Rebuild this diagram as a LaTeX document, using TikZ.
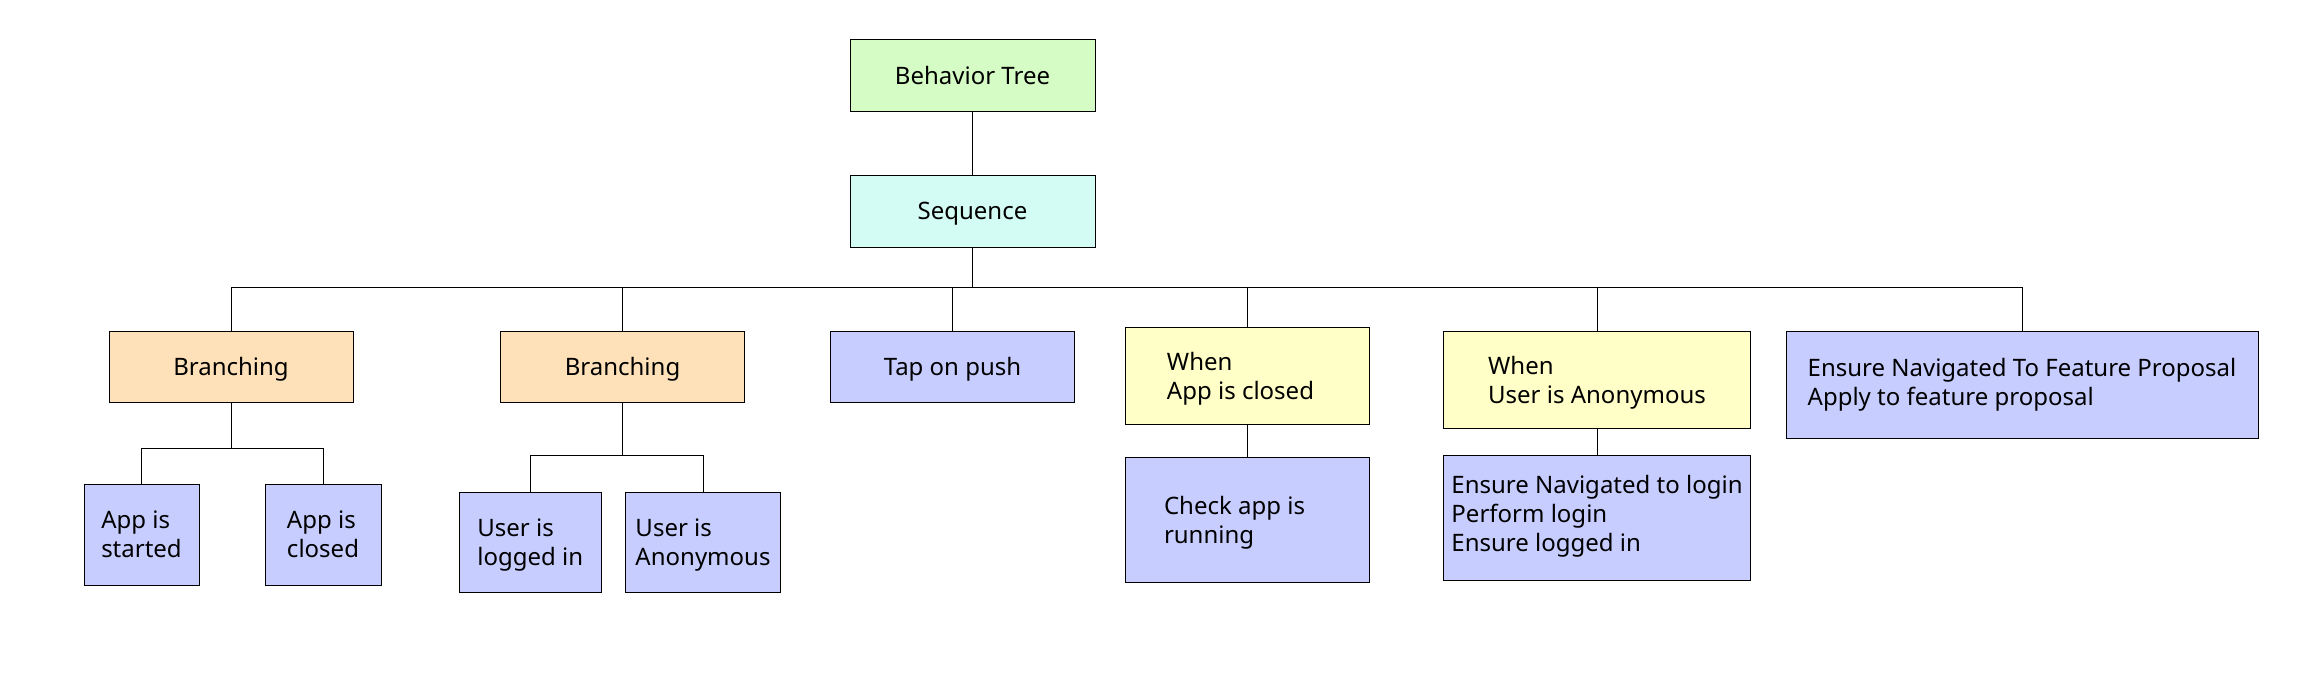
\documentclass[tikz,border=0pt]{standalone}
\usepackage{fontspec}
\setmainfont{Noto Sans}
\usepackage{tikz}
\usepackage{xcolor}

\definecolor{rootgreen}{RGB}{212,252,196}
\definecolor{seqcyan}{RGB}{211,253,244}
\definecolor{branchpeach}{RGB}{255,225,185}
\definecolor{actionblue}{RGB}{199,206,255}
\definecolor{whenyellow}{RGB}{255,255,199}

\begin{document}
\begin{tikzpicture}[x=1pt,y=-1pt,
        box/.style={draw=black, line width=1pt, align=left, inner sep=0pt,
                    text depth=0pt, font=\fontsize{24}{29}\selectfont},
        root/.style={box, fill=rootgreen},
        seqbox/.style={box, fill=seqcyan},
        branch/.style={box, fill=branchpeach},
        action/.style={box, fill=actionblue},
        whenbox/.style={box, fill=whenyellow},
        link/.style={draw=black, line width=1pt}]
                \useasboundingbox (0,0) rectangle (2297,681);
                % top of the tree
                \node[root, minimum width=245pt, minimum height=72pt] (bt) at (972.5,75) {Behavior Tree};
                \node[seqbox, minimum width=245pt, minimum height=72pt] (seq) at (972.5,211) {Sequence};
                % children of the sequence
                \node[branch, minimum width=244pt, minimum height=71pt] (br1) at (231,366.5) {Branching};
                \node[branch, minimum width=244pt, minimum height=71pt] (br2) at (622.5,366.5) {Branching};
                \node[action, minimum width=244pt, minimum height=71pt] (tap) at (952.5,366.5) {Tap on push};
                \node[whenbox, minimum width=244pt, minimum height=97pt] (when1) at (1247.5,375.5) {When\\App is closed\hspace*{14pt}};
                \node[whenbox, minimum width=307pt, minimum height=97pt] (when2) at (1597,379.5) {When\\User is Anonymous};
                \node[action, minimum width=472pt, minimum height=107pt, text depth=6pt] (feat) at (2022,384.5) {Ensure Navigated To Feature Proposal\\Apply to feature proposal};
                % leaves
                \node[action, minimum width=115pt, minimum height=101pt] (appst) at (141.5,534.5) {App is\\started};
                \node[action, minimum width=116pt, minimum height=101pt] (appcl) at (323,534.5) {App is\\closed};
                \node[action, minimum width=142pt, minimum height=100pt] (uli) at (530.3,542) {User is\\logged in};
                \node[action, minimum width=155pt, minimum height=100pt] (uan) at (703,542) {User is\\Anonymous};
                \node[action, minimum width=244pt, minimum height=125pt] (chk) at (1247.5,519.5) {Check app is\hspace*{26pt}\\running};
                \node[action, minimum width=307pt, minimum height=125pt, text depth=9pt] (login) at (1597,517.5) {Ensure Navigated to login\\Perform login\\Ensure logged in};
                % connectors
                \draw[link] (bt) -- (seq);
                \foreach \c in {br1,br2,tap,when1,when2,feat}
                    \draw[link] (seq.south) -- ++(0,40) -| (\c.north);
                \foreach \c in {appst,appcl}
                    \draw[link] (br1.south) -- ++(0,46) -| (\c.north);
                \foreach \c in {uli,uan}
                    \draw[link] (br2.south) -- ++(0,53) -| (\c.north);
                \draw[link] (when1) -- (chk);
                \draw[link] (when2) -- (login);
            \end{tikzpicture}
\end{document}
